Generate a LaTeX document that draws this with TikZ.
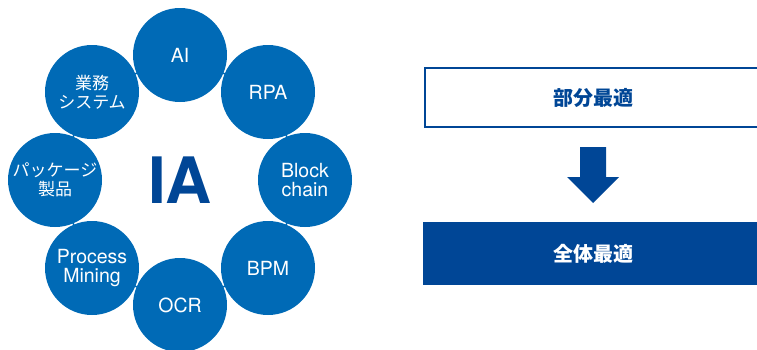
\documentclass[tikz,border=0pt]{standalone}
\usepackage{fontspec}
\setmainfont{TeX Gyre Heros}
\newfontfamily\jp{Noto Sans CJK JP}
\usetikzlibrary{backgrounds}
\definecolor{ringblue}{RGB}{0,106,182}
\definecolor{deepblue}{RGB}{0,70,150}

\begin{document}
\begin{tikzpicture}[x=1pt, y=-1pt]
        % ================= styles =================
        \tikzset{
            % ring circles
            tech/.style={circle, fill=ringblue, text=white, minimum size=94pt, inner sep=0pt,
                         align=center, font=\fontsize{19.5}{18.5}\selectfont},
            techjp/.style={tech, font=\jp\fontsize{17}{19}\selectfont},
            % thin link between neighbours
            ringlink/.style={ringblue, line width=1.5pt},
            % boxes on the right
            boxtext/.style={font=\jp\bfseries\fontsize{20}{20}\selectfont},
            outlinebox/.style={draw=deepblue, line width=1.5pt, fill=white, minimum width=340pt,
                               minimum height=59pt, inner sep=0pt},
            filledbox/.style={fill=deepblue, minimum width=340pt, minimum height=63pt, inner sep=0pt}
        }
        \useasboundingbox (0,0) rectangle (757,349);

        % ================= left: ring round IA =================
        \node[font=\bfseries\fontsize{64}{64}\selectfont, text=deepblue] (ia) at (180,180) {IA};

        % ring nodes, every 45 degrees (radius 125)
        \node[tech]   (ai)    at (180,55)  {AI};
        \node[tech]   (rpa)   at (268,92)  {RPA};
        \node[tech]   (block) at (305,180) {Block\\chain};
        \node[tech]   (bpm)   at (268,268) {BPM};
        \node[tech]   (ocr)   at (180,305) {OCR};
        \node[tech]   (pm)    at (92,268)  {Process\\Mining};
        \node[techjp] (pkg)   at (55,180)  {パッケージ\\製品};
        \node[techjp] (sys)   at (92,92)   {業務\\システム};

        % links drawn behind the circles
        \begin{scope}[on background layer]
            \foreach \a/\b in {ai/rpa, rpa/block, block/bpm, bpm/ocr, ocr/pm, pm/pkg, pkg/sys, sys/ai}
                \draw[ringlink] (\a.center) -- (\b.center);
        \end{scope}

        % ================= right: 部分最適 -> 全体最適 =================
        \node[outlinebox, anchor=north west] (part) at (424,67) {};
        \node[boxtext, text=deepblue] (parttxt) at (593,98) {部分最適};
        \node[filledbox, anchor=north west] (whole) at (423,222) {};
        \node[boxtext, text=white] (wholetxt) at (593,254) {全体最適};

        % down arrow between the boxes
        \coordinate (tip) at (593,203);
        \fill[deepblue] (tip) -- ++(-26,-26) -- ++(13,0) -- ++(0,-30) -- ++(26,0)
            -- ++(0,30) -- ++(13,0) -- cycle;
    \end{tikzpicture}
\end{document}
